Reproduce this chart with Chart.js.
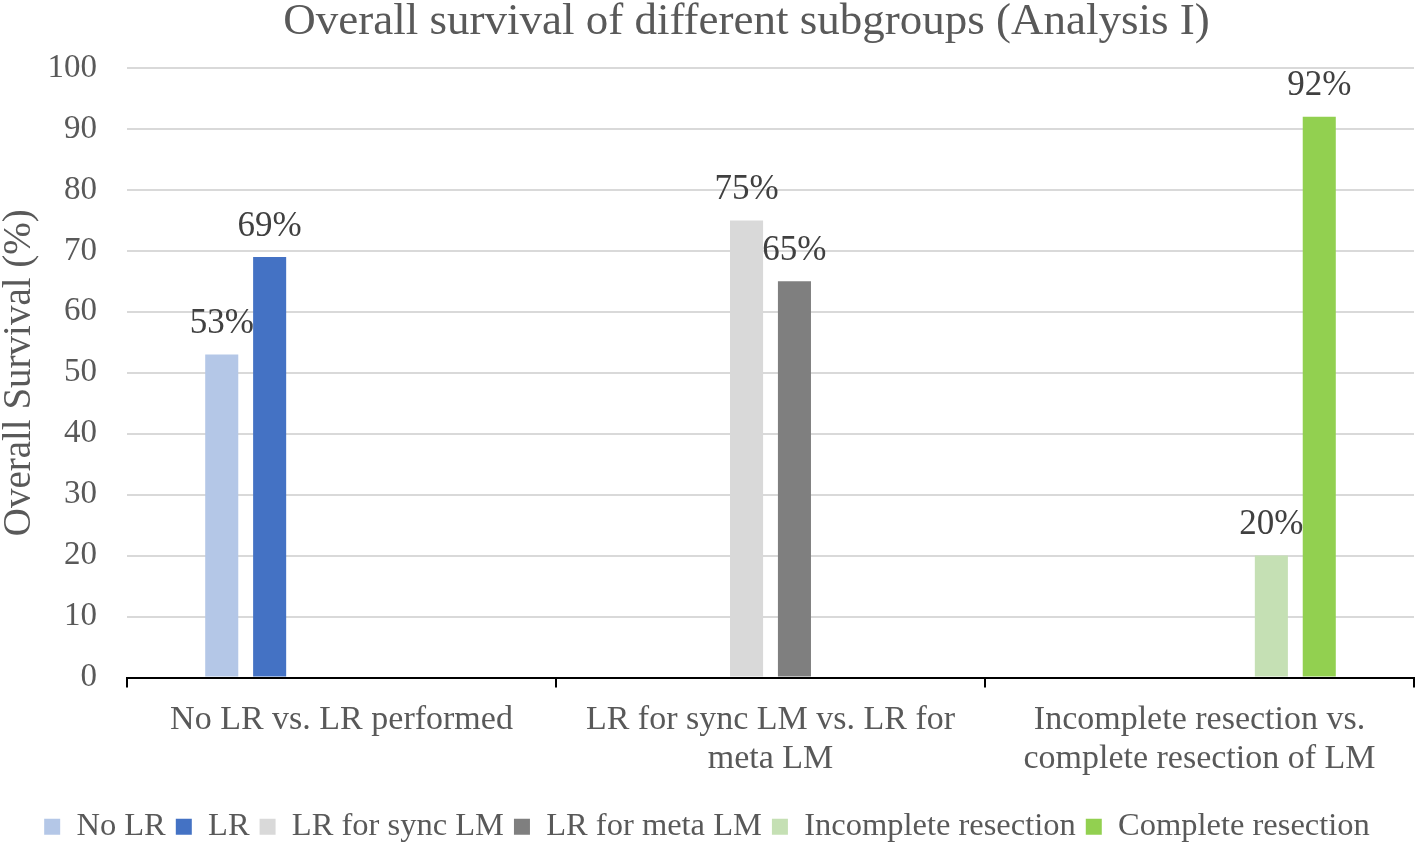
<!DOCTYPE html>
<html>
<head>
<meta charset="utf-8">
<script src="https://cdn.jsdelivr.net/npm/chart.js@4"></script>
<style>
    html, body { margin: 0; padding: 0; background: #ffffff; }
    #wrap { width: 1416px; height: 843px; }
</style>
</head>
<body>
<div id="wrap"><canvas id="chart" width="1416" height="843"></canvas></div>
<script>
const chartTitle = "Overall survival of different subgroups (Analysis I)";
const categories = [
    ["No LR vs. LR performed"],
    ["LR for sync LM vs. LR for", "meta LM"],
    ["Incomplete resection vs.", "complete resection of LM"]
];
const seriesNames = ["No LR", "LR", "LR for sync LM", "LR for meta LM", "Incomplete resection", "Complete resection"];
const noLR = [53, null, null];
const withLR = [69, null, null];
const syncLM = [null, 75, null];
const metaLM = [null, 65, null];
const incomplete = [null, null, 20];
const complete = [null, null, 92];
const yTicks = [0, 10, 20, 30, 40, 50, 60, 70, 80, 90, 100];

const seriesColors = ["#b4c7e7", "#4472c4", "#d9d9d9", "#7f7f7f", "#c5e0b4", "#92d050"];
const serif = "'Liberation Serif', 'DejaVu Serif', serif";

// value labels above each bar
const valueLabels = {
    id: "valueLabels",
    afterDatasetsDraw(chart) {
        const { ctx } = chart;
        ctx.save();
        ctx.font = "35px " + serif;
        ctx.fillStyle = "#404040";
        ctx.textAlign = "center";
        ctx.textBaseline = "bottom";
        chart.data.datasets.forEach((ds, i) => {
            const meta = chart.getDatasetMeta(i);
            meta.data.forEach((bar, j) => {
                const v = ds.data[j];
                if (v === null || v === undefined) return;
                ctx.fillText(v + "%", bar.x, bar.y - 13);
            });
        });
        ctx.restore();
    }
};

// title is a bit right of the canvas centre in the original
const offsetTitle = {
    id: "offsetTitle",
    afterDraw(chart) {
        const { ctx, chartArea } = chart;
        ctx.save();
        ctx.font = "45px " + serif;
        ctx.fillStyle = "#595959";
        ctx.textAlign = "center";
        ctx.textBaseline = "middle";
        ctx.fillText(chartTitle, (chart.width + chartArea.left) / 2 - 25, 22);
        ctx.restore();
    }
};

const allSeries = [noLR, withLR, syncLM, metaLM, incomplete, complete];

new Chart(document.getElementById("chart"), {
    type: "bar",
    data: {
        labels: categories,
        datasets: allSeries.map((vals, i) => ({
            label: seriesNames[i],
            data: vals,
            backgroundColor: seriesColors[i],
            borderWidth: 0,
            categoryPercentage: 0.67,
            barPercentage: 0.69
        }))
    },
    options: {
        responsive: false,
        animation: false,
        layout: { padding: { left: 0, right: 2, top: 68, bottom: -10 } },
        plugins: {
            tooltip: { enabled: false },
            title: { display: false },
            legend: {
                position: "bottom",
                labels: {
                    color: "#595959",
                    font: { family: serif, size: 32.5 },
                    boxWidth: 16,
                    boxHeight: 16,
                    padding: 10
                }
            }
        },
        scales: {
            x: {
                afterFit(scale) {
                    scale.height = 123;
                },
                grid: {
                    offset: true,
                    drawOnChartArea: false,
                    color: "#000000",
                    tickLength: 10,
                    lineWidth: 2
                },
                border: { color: "#000000", width: 2 },
                ticks: {
                    color: "#595959",
                    font: { family: serif, size: 34, lineHeight: 1.15 },
                    padding: 13,
                    maxRotation: 0,
                    autoSkip: false
                }
            },
            y: {
                min: 0,
                max: 100,
                afterBuildTicks(scale) {
                    scale.ticks = yTicks.map(v => ({ value: v }));
                },
                afterFit(scale) {
                    scale.width = 127;
                },
                title: {
                    display: true,
                    text: "Overall Survival (%)",
                    color: "#595959",
                    font: { family: serif, size: 39, lineHeight: 1.0 },
                    padding: { top: 0, bottom: 4 }
                },
                grid: {
                    color: "#d9d9d9",
                    lineWidth: 2,
                    drawTicks: false
                },
                border: { display: false },
                ticks: {
                    color: "#595959",
                    font: { family: serif, size: 33 },
                    padding: 30
                }
            }
        }
    },
    plugins: [valueLabels, offsetTitle]
});
</script>
</body>
</html>
